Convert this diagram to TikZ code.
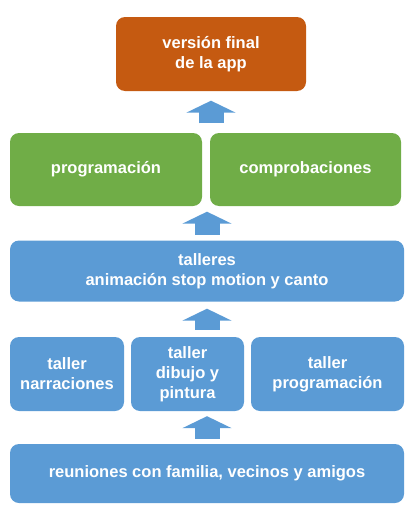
\documentclass[tikz,border=0pt]{standalone}
\usepackage{fontspec}
\setmainfont{Liberation Sans}
\usetikzlibrary{arrows.meta}

\definecolor{appOrange}{HTML}{C55A11}
\definecolor{appGreen}{HTML}{70AD47}
\definecolor{appBlue}{HTML}{5B9BD5}

\begin{document}
\begin{tikzpicture}[x=1pt, y=-1pt,
		box/.style={rounded corners=9pt, inner sep=0pt, text=white, align=center,
			font=\fontsize{16.5}{20}\selectfont\bfseries},
		orangebox/.style={box, fill=appOrange},
		greenbox/.style={box, fill=appGreen},
		bluebox/.style={box, fill=appBlue},
		uparrow/.style={draw=appBlue, line width=25pt,
			-{Triangle[width=49pt, length=12pt]}, shorten <=#1, shorten >=#1}]
		\useasboundingbox (0,0) rectangle (416,514);
		\node[orangebox, minimum width=190pt, minimum height=74pt] (final) at (211,54) {versión final\\de la app};
		\node[greenbox, minimum width=192pt, minimum height=73pt] (prog) at (106,169.5) {programación};
		\node[greenbox, minimum width=191pt, minimum height=73pt] (comp) at (305.5,169.5) {comprobaciones};
		\node[bluebox, minimum width=394pt, minimum height=61pt] (talleres) at (207,271) {talleres\\animación stop motion y canto};
		\node[bluebox, minimum width=114pt, minimum height=74pt] (narr) at (67,374) {taller\\narraciones};
		\node[bluebox, minimum width=113pt, minimum height=74pt] (dibujo) at (187.5,374) {taller\\dibujo y\\pintura};
		\node[bluebox, minimum width=153pt, minimum height=74pt] (tprog) at (327.5,374) {taller\\programación};
		\node[bluebox, minimum width=394pt, minimum height=59pt] (reun) at (207,473.5) {reuniones con familia, vecinos y amigos};
		% block arrows
		\draw[uparrow=9.5pt] (final.south |- prog.north) -- (final.south);
		\draw[uparrow=5.5pt] (talleres.north -| {(207,0)}) -- (talleres.north |- prog.south);
		\draw[uparrow=7pt] (dibujo.north -| {(207,0)}) -- ({(207,0)} |- talleres.south);
		\draw[uparrow=5pt] (reun.north -| {(207,0)}) -- (dibujo.south -| {(207,0)});
\end{tikzpicture}
\end{document}
